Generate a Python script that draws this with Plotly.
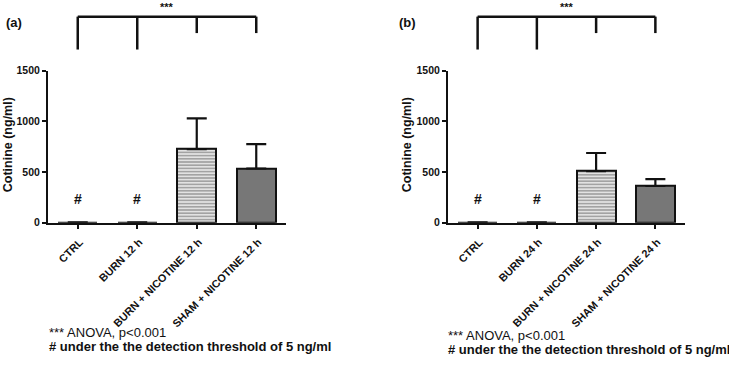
import plotly.graph_objects as go

W, H = 729, 365

cats_a = ["CTRL", "BURN 12 h", "BURN + NICOTINE 12 h", "SHAM + NICOTINE 12 h"]
cats_b = ["CTRL", "BURN 24 h", "BURN + NICOTINE 24 h", "SHAM + NICOTINE 24 h"]
vals_a = [3, 3, 725, 535]
err_a = [0, 0, 305, 240]
vals_b = [3, 3, 508, 362]
err_b = [0, 0, 180, 68]
yticks = [0, 500, 1000, 1500]
hash_level = 230
panel_labels = ["(a)", "(b)"]
notes = ["*** ANOVA, p<0.001", "<b># under the the detection threshold of 5 ng/ml</b>"]

def px_x(p):
    return p / W

def px_y(p):
    return (H - p) / H

FONT = "Liberation Sans, Arial, sans-serif"

fill_colors = ["#ffffff", "#ffffff", "#e2e2e2", "#777777"]
pat_shapes = ["", "", "-", ""]

fig = go.Figure()

panels = [
    dict(cats=cats_a, vals=vals_a, err=err_a, xa="x", ya="y", x0=48, x1=286, lab_x=14, title_x=8, note_x=47, note_y=(338, 352)),
    dict(cats=cats_b, vals=vals_b, err=err_b, xa="x2", ya="y2", x0=448, x1=685, lab_x=407, title_x=407, note_x=446, note_y=(341, 355)),
]

annotations = []
shapes = []
for i, p in enumerate(panels):
    fig.add_trace(go.Bar(
        x=list(range(len(p["cats"]))), y=p["vals"], xaxis=p["xa"], yaxis=p["ya"],
        width=0.66,
        marker=dict(color=fill_colors, line=dict(color="#111111", width=2),
                    pattern=dict(shape=pat_shapes, fgcolor="#8f8f8f", size=3.2, solidity=0.4)),
        error_y=dict(type="data", array=p["err"], arrayminus=[0] * 4, symmetric=False,
                     color="#111111", thickness=2.2, width=10, visible=True),
        showlegend=False, hoverinfo="skip",
    ))
    xref = p["xa"]
    for k in range(2):
        annotations.append(dict(x=k, y=hash_level, xref=xref, yref=p["ya"], text="<b>#</b>",
                                showarrow=False, font=dict(family=FONT, size=14, color="#111")))
    top = px_y(11)
    lows = [px_y(45), px_y(45), px_y(28), px_y(28)]
    shapes.append(dict(type="line", xref=xref, yref="paper", x0=0, x1=3, y0=top, y1=top,
                       line=dict(color="#111", width=2.5)))
    for k in range(4):
        shapes.append(dict(type="line", xref=xref, yref="paper", x0=k, x1=k, y0=top, y1=lows[k],
                           line=dict(color="#111", width=2.5)))
    annotations.append(dict(x=1.5, y=px_y(1), xref=xref, yref="paper", text="<b>***</b>", showarrow=False,
                            font=dict(family=FONT, size=11, color="#111"), yanchor="middle"))
    annotations.append(dict(x=px_x(p["lab_x"]), y=px_y(17), xref="paper", yref="paper", text="<b>" + panel_labels[i] + "</b>",
                            showarrow=False, font=dict(family=FONT, size=13, color="#111"), xanchor="center", yanchor="middle"))
    annotations.append(dict(x=px_x(p["title_x"]), y=px_y(144), xref="paper", yref="paper",
                            text="<b>Cotinine (ng/ml)</b>", textangle=-90, showarrow=False,
                            font=dict(family=FONT, size=12.5, color="#111"), xanchor="center", yanchor="middle"))
    for t, yy in zip(notes, p["note_y"]):
        annotations.append(dict(x=px_x(p["note_x"]), y=px_y(yy), xref="paper", yref="paper", text=t,
                                showarrow=False, font=dict(family=FONT, size=13, color="#111"),
                                xanchor="left", yanchor="middle"))

ydom = [px_y(224), px_y(67)]
axis_common = dict(showline=True, linecolor="#111", linewidth=2, showgrid=False, zeroline=False,
                   ticks="outside", ticklen=4, tickwidth=2, tickcolor="#111")

for i, p in enumerate(panels):
    sfx = "" if i == 0 else "2"
    fig.update_layout(**{
        "xaxis" + sfx: dict(axis_common, domain=[px_x(p["x0"]), px_x(p["x1"])], range=[-0.5, 3.5],
                            tickmode="array", tickvals=list(range(4)), ticktext=["<b>%s</b>" % c for c in p["cats"]],
                            tickangle=-45, tickfont=dict(family=FONT, size=10.8, color="#111"),
                            ticklabelstandoff=3, ticklabelshift=2,
                            anchor="y" + sfx),
        "yaxis" + sfx: dict(axis_common, domain=ydom, range=[0, 1500], tickmode="array", tickvals=yticks,
                            ticktext=["<b>%d</b>" % v for v in yticks],
                            tickfont=dict(family=FONT, size=10.5, color="#111"), anchor="x" + sfx),
    })

fig.update_layout(width=W, height=H, margin=dict(l=0, r=0, t=0, b=0), plot_bgcolor="white",
                  paper_bgcolor="white", annotations=annotations, shapes=shapes, bargap=0)

fig.write_html("out.html", config={"displayModeBar": False},
               post_script="document.body.style.margin='0';document.body.style.overflow='hidden';")
